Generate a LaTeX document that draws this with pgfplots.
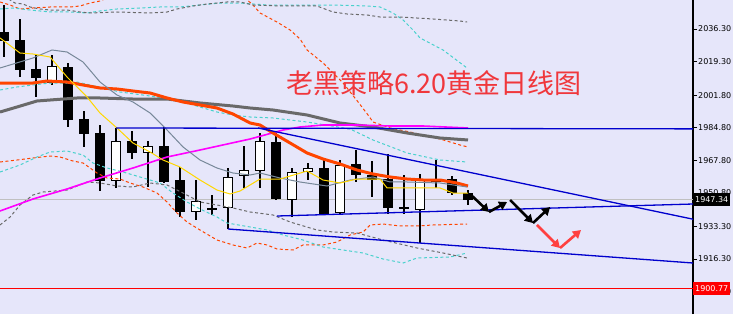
\documentclass[border=0pt]{standalone}
\usepackage{pgfplots}
\pgfplotsset{compat=1.18}
\usepackage{pgfplotstable}
\usepackage{fontspec}
\setmainfont{DejaVu Sans}
\newfontfamily\cjk{Noto Sans CJK SC}
\usetikzlibrary{arrows.meta}

\definecolor{bg}{RGB}{230,230,250}
\definecolor{maorange}{RGB}{255,69,0}
\definecolor{magray}{RGB}{105,105,105}
\definecolor{mamag}{RGB}{255,0,255}
\definecolor{maslate}{RGB}{119,136,153}
\definecolor{magold}{RGB}{255,215,0}
\definecolor{bandcyan}{RGB}{72,209,204}
\definecolor{chanblue}{RGB}{0,0,205}
\definecolor{bidgray}{RGB}{192,192,192}
\definecolor{titlered}{RGB}{240,55,60}
\definecolor{arrowred}{RGB}{255,64,64}

% daily candles: index, open, high, low, close
\pgfplotstableread{
i open high low close
1 2034.73 2048.82 2021.69 2030.04
2 2030.56 2041.52 2011.26 2014.91
3 2015.43 2023.26 2000.83 2010.74
4 2008.13 2022.74 2007.09 2017.00
5 2016.48 2018.56 1985.17 1988.83
6 1989.35 1993.52 1974.74 1981.52
7 1982.04 1986.22 1951.79 1957.00
8 1957.00 1984.66 1953.35 1977.87
9 1977.87 1983.09 1968.48 1971.61
10 1971.61 1977.87 1953.88 1975.26
11 1975.26 1985.17 1955.96 1956.48
12 1957.52 1964.31 1938.22 1940.83
13 1940.83 1957.52 1936.66 1946.57
14 1943.18 1949.70 1939.27 1942.14
15 1942.92 1963.79 1931.96 1959.09
16 1959.61 1975.26 1953.35 1962.74
17 1962.22 1982.04 1953.35 1977.87
18 1977.35 1982.04 1947.09 1947.61
19 1947.09 1963.79 1938.22 1961.70
20 1961.70 1966.39 1957.52 1963.79
21 1963.79 1969.00 1939.27 1939.79
22 1940.31 1967.96 1939.27 1965.35
23 1965.87 1973.17 1956.48 1960.13
24 1960.13 1967.44 1948.65 1957.52
25 1958.05 1971.09 1939.79 1942.92
26 1943.44 1960.13 1939.79 1942.40
27 1941.88 1960.65 1924.66 1958.05
28 1957.52 1967.96 1953.35 1956.74
29 1958.05 1959.61 1949.70 1950.74
30 1950.74 1952.31 1944.48 1947.34
}\candles

\begin{document}
\begin{tikzpicture}
\fill[bg] (0,0) rectangle (733pt,314pt);
\useasboundingbox (0,0) rectangle (733pt,314pt);
\begin{axis}[
  at={(0pt,0pt)}, anchor=south west,
  scale only axis, width=693pt, height=314pt,
  xmin=0.75, xmax=44.06, ymin=1887.63, ymax=2051.43,
  axis x line=none, axis y line*=right,
  y axis line style={-, black, line width=1.2pt},
  xtick=\empty,
  ytick={2036.3,2019.3,2001.8,1984.8,1967.8,1950.8,1933.3,1916.3,1899.3},
  yticklabels={2036.30,2019.30,2001.80,1984.80,1967.80,1950.80,1933.30,1916.30,1899.30},
  ytick pos=right, ytick align=outside, major tick length=4pt,
  tick style={black, line width=0.8pt},
  yticklabel style={font=\fontsize{8}{9}\selectfont, text=black, inner sep=1pt},
  clip mode=individual,
  candle/.style={draw=none, mark=none, forget plot, error bars/.cd, y dir=both, y explicit, error mark=none},
]
% price lines
\addplot[bidgray, line width=1pt] coordinates {(0.75,1947.34) (44.06,1947.34)};
\addplot[red, line width=1pt] coordinates {(0.75,1900.77) (44.06,1900.77)};

% candles: wicks, bodies, hollow up-candles
\addplot[candle, error bar style={draw=black, line width=1.1pt}]
  table[x=i, y expr={(\thisrow{high}+\thisrow{low})/2}, y error expr={(\thisrow{high}-\thisrow{low})/2}] {\candles};
\addplot[candle, error bar style={draw=black, line width=10.5pt}]
  table[x=i, y expr={(\thisrow{open}+\thisrow{close})/2}, y error expr={abs(\thisrow{open}-\thisrow{close})/2}] {\candles};
\addplot[candle, error bar style={draw=white, line width=8.3pt}]
  table[x=i, y expr={(\thisrow{open}+\thisrow{close})/2}, y error expr={max((\thisrow{close}-\thisrow{open})/2-0.55,0)}] {\candles};

% envelope bands (upper, middle, lower)
\addplot[maorange, line width=1pt, dash pattern=on 3pt off 2.5pt] coordinates {
(0.75,2050.39) (1.38,2048.82) (2.0,2046.73) (2.81,2047.26) (3.88,2047.78) (5.13,2047.78)
(5.75,2048.30) (6.38,2049.86) (7.0,2050.91) (7.44,2052.47) (8.88,2059.25) (11.69,2061.86)
(14.5,2057.69) (16.06,2052.47) (16.56,2048.82) (17.0,2044.65) (18.06,2039.95) (18.88,2035.78)
(19.5,2031.09) (19.94,2025.35) (20.94,2018.57) (22.19,2008.13) (23.13,1998.22) (23.75,1991.44)
(24.06,1987.79) (25.13,1984.66) (26.38,1982.57) (27.44,1980.49) (28.25,1978.92) (29.5,1975.79) (30.0,1974.75)};
\addplot[bandcyan, line width=1pt, dash pattern=on 3pt off 2.5pt] coordinates {
(0.75,2046.73) (1.56,2047.26) (2.63,2046.21) (3.88,2045.17) (5.13,2045.17) (6.19,2044.65)
(7.0,2045.69) (8.06,2046.73) (9.5,2047.26) (10.75,2047.78) (12.0,2047.78) (13.25,2048.82)
(14.5,2049.86) (15.75,2049.86) (17.44,2048.82) (19.5,2048.82) (21.56,2048.82) (23.69,2048.30)
(24.5,2047.78) (25.31,2044.65) (25.94,2041.00) (26.56,2035.78) (27.0,2031.61) (28.44,2025.35) (29.94,2015.96)};
\addplot[magray, line width=1pt, dash pattern=on 3pt off 2.5pt] coordinates {
(1.06,2054.04) (1.38,2051.43) (1.69,2049.86) (2.19,2049.34) (2.63,2047.78) (3.25,2046.73)
(3.88,2046.21) (4.94,2046.21) (5.75,2045.17) (6.38,2044.65) (8.06,2045.17) (10.13,2044.65)
(11.19,2045.17) (11.81,2046.73) (12.81,2048.30) (13.69,2049.34) (14.94,2050.39) (15.75,2050.39)
(16.56,2048.82) (18.25,2048.30) (19.5,2048.30) (20.56,2048.30) (21.56,2045.17) (22.44,2044.13)
(23.69,2043.61) (24.5,2042.56) (25.75,2042.56) (27.81,2041.52) (29.5,2040.47) (29.94,2039.95)};
\addplot[bandcyan, line width=1pt, dash pattern=on 3pt off 2.5pt] coordinates {
(0.75,2004.48) (1.81,2006.05) (2.81,2007.09) (3.88,2008.13) (4.94,2008.13) (5.56,2008.65)
(8.25,2003.44) (10.13,2001.35) (11.56,1999.26) (12.44,1997.70) (13.25,1995.61) (14.31,1993.00)
(15.31,1991.44) (16.38,1990.40) (17.81,1989.88) (19.94,1987.79) (22.63,1984.14) (24.06,1978.40)
(26.19,1971.62) (28.25,1967.96) (29.94,1966.92)};
\addplot[maorange, line width=1pt, dash pattern=on 3pt off 2.5pt] coordinates {
(0.75,1966.92) (1.81,1967.96) (2.81,1969.01) (3.88,1970.05) (4.5,1969.53) (5.31,1967.44)
(5.94,1966.40) (6.38,1963.79) (6.81,1961.18) (7.44,1958.58) (8.25,1958.05) (8.88,1955.97)
(9.69,1953.88) (10.56,1950.75) (11.19,1946.06) (11.81,1940.32) (12.44,1935.62) (13.25,1931.45)
(14.31,1926.23) (15.31,1923.63) (16.19,1922.06) (16.81,1924.67) (17.44,1923.63) (18.06,1921.54)
(19.06,1921.02) (19.69,1923.63) (20.94,1923.63) (21.81,1925.19) (22.63,1928.84) (23.44,1930.41)
(23.88,1934.06) (24.69,1934.58) (25.75,1933.54) (26.81,1933.54) (27.81,1934.06) (29.94,1934.58)};
\addplot[bandcyan, line width=1pt, dash pattern=on 3pt off 2.5pt] coordinates {
(0.75,1961.70) (2.0,1965.36) (3.06,1969.53) (3.88,1972.14) (4.94,1972.66) (5.94,1970.57)
(6.56,1966.40) (7.44,1963.79) (8.44,1961.70) (9.5,1959.10) (10.75,1955.97) (11.56,1950.75)
(12.44,1946.06) (13.25,1942.41) (14.31,1938.23) (14.94,1935.10) (16.38,1933.02) (17.44,1931.45)
(18.44,1928.84) (19.69,1926.23) (20.94,1922.58) (22.19,1921.02) (23.44,1919.45) (24.69,1916.32)
(25.94,1914.24) (26.81,1916.84) (28.88,1917.37) (29.94,1919.45)};
\addplot[magray, line width=1pt, dash pattern=on 3pt off 2.5pt] coordinates {
(0.75,1934.06) (1.38,1938.23) (2.0,1944.49) (2.81,1949.70) (3.44,1951.27) (4.94,1952.31)
(6.19,1956.49) (7.0,1955.97) (8.06,1954.40) (9.06,1953.88) (10.13,1955.97) (11.19,1954.92)
(12.19,1950.75) (13.25,1946.06) (14.31,1944.49) (15.31,1942.93) (16.38,1940.84) (17.81,1939.28)
(18.88,1935.62) (20.56,1931.45) (21.56,1930.41) (23.06,1929.89) (24.69,1926.23) (26.81,1922.06)
(28.44,1919.45) (29.94,1916.84)};

% moving averages
\addplot[magray, line width=3pt] coordinates {
(0.75,1993.00) (1.81,1995.61) (3.06,1998.74) (3.88,1999.26) (5.56,2000.31) (7.0,2000.31)
(9.06,1999.78) (11.19,1999.78) (13.25,1997.70) (15.31,1996.13) (16.38,1995.09) (17.81,1994.05)
(19.94,1991.44) (22.0,1987.27) (24.06,1985.18) (26.19,1982.05) (28.25,1979.44) (30.0,1978.40)};
\addplot[mamag, line width=1.6pt] coordinates {
(0.75,1941.36) (2.81,1947.62) (4.94,1952.84) (7.0,1958.58) (9.06,1963.79) (11.19,1969.53)
(13.25,1973.18) (16.38,1978.92) (18.44,1983.61) (19.5,1985.18) (20.94,1986.22) (23.06,1986.22)
(25.13,1985.70) (27.19,1985.70) (30.0,1984.66)};
\addplot[maorange, line width=3pt] coordinates {
(0.75,2008.13) (2.81,2008.13) (3.69,2009.17) (4.94,2008.65) (5.94,2007.09) (7.0,2005.52)
(8.06,2005.00) (9.06,2003.96) (10.13,2002.91) (11.19,2000.31) (12.19,1998.22) (13.25,1996.65)
(14.31,1995.09) (15.31,1991.96) (16.38,1987.27) (17.0,1986.22) (17.81,1982.05) (18.88,1976.83)
(19.94,1971.62) (20.94,1968.49) (22.0,1965.88) (23.06,1962.75) (24.06,1960.66) (25.13,1959.10)
(26.19,1958.05) (27.19,1957.53) (28.25,1957.53) (29.31,1955.97) (30.0,1954.40)};
\addplot[maslate, line width=1pt] coordinates {
(0.75,2015.96) (2.81,2021.17) (4.0,2025.35) (4.94,2024.30) (5.94,2019.09) (7.0,2008.65)
(8.06,2001.87) (9.06,1998.22) (10.13,1992.48) (11.19,1983.61) (12.19,1974.75) (13.25,1967.96)
(14.31,1963.79) (15.31,1961.18) (16.38,1960.14) (17.0,1961.18) (18.25,1958.58) (19.5,1956.49)
(21.19,1954.40) (22.63,1957.53) (24.06,1959.10) (25.13,1956.49) (26.19,1956.49) (28.25,1955.97) (29.94,1953.88)};
\addplot[magold, line width=1pt] coordinates {
(0.75,2031.61) (2.0,2023.78) (2.81,2023.26) (3.88,2021.70) (4.94,2011.26) (6.19,2000.83)
(7.0,1992.48) (8.06,1984.66) (9.06,1976.83) (10.13,1972.14) (10.94,1967.96) (12.0,1964.31)
(13.25,1957.53) (14.31,1952.31) (15.13,1950.23) (15.75,1951.79) (17.0,1958.05) (18.25,1958.05)
(19.94,1962.22) (20.94,1957.53) (22.0,1955.97) (23.06,1958.05) (24.5,1958.05) (24.94,1953.36)
(28.25,1953.36) (29.06,1950.75) (30.0,1950.75)};

% channel lines
\addplot[chanblue, line width=1.3pt] coordinates {(8.0,1984.66) (44.06,1984.2)};
\addplot[chanblue, line width=1.3pt] coordinates {(16.88,1984.66) (44.0,1937.19) (44.06,1936.9)};
\addplot[chanblue, line width=1.3pt] coordinates {(18.06,1938.75) (44.06,1945.01)};
\addplot[chanblue, line width=1.3pt] coordinates {(15.0,1931.97) (44.06,1914.23)};

% projected path
\addplot[black, line width=2.6pt, -{Triangle[length=8pt,width=9pt]}] coordinates {(30.19,1949.70) (31.31,1940.84)};
\addplot[black, line width=2.6pt, -{Triangle[length=8pt,width=9pt]}] coordinates {(31.31,1940.84) (32.44,1946.06)};
\addplot[black, line width=2.6pt, -{Triangle[length=8pt,width=9pt]}] coordinates {(32.63,1947.10) (34.06,1935.10)};
\addplot[black, line width=2.6pt, -{Triangle[length=8pt,width=9pt]}] coordinates {(34.06,1935.10) (35.13,1943.45)};
\addplot[arrowred, line width=2.6pt, -{Triangle[length=8pt,width=9pt]}] coordinates {(34.31,1934.06) (35.75,1922.06)};
\addplot[arrowred, line width=2.6pt, -{Triangle[length=8pt,width=9pt]}] coordinates {(35.75,1922.06) (37.06,1931.45)};

% title and price tags
\node[font=\cjk\fontsize{27}{30}\selectfont, text=titlered] at (axis description cs:0.6263,0.7357) {老黑策略6.20黄金日线图};
\node[fill=black, text=white, anchor=west, inner xsep=2pt, inner ysep=0pt, minimum height=13pt,
  font=\fontsize{8}{9}\selectfont] at (axis cs:44.06,1947.34) {1947.34};
\node[fill=red, text=white, anchor=west, inner xsep=2pt, inner ysep=0pt, minimum height=13pt,
  font=\fontsize{8}{9}\selectfont] at (axis cs:44.06,1900.77) {1900.77};
\end{axis}
\end{tikzpicture}
\end{document}
